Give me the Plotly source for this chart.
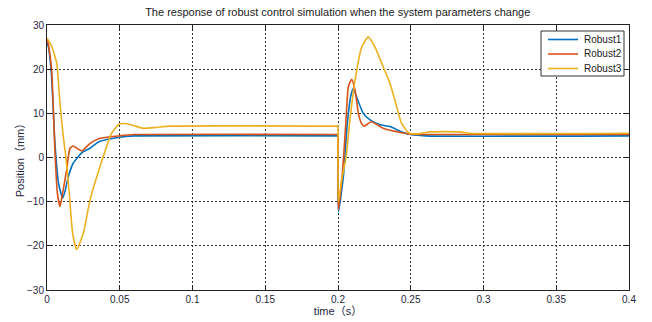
import plotly.graph_objects as go

# Robust1 (blue)
t1 = [0, 0.001, 0.003, 0.0055, 0.008, 0.0108, 0.0125, 0.0147, 0.018, 0.024, 0.0296, 0.036, 0.0497, 0.06, 0.2,
      0.2, 0.2003, 0.2037, 0.2064, 0.2087, 0.2105, 0.214, 0.2174, 0.222, 0.2289, 0.2357, 0.2438, 0.25, 0.26, 0.4]
y1 = [26.0, 25.0, 19.0, 3.0, -6.0, -9.2, -7.5, -4.3, -1.3, 1.1, 2.1, 3.6, 4.6, 4.9, 4.9,
      4.9, -12.3, -4.3, 7.7, 13.8, 15.6, 12.6, 10.0, 8.5, 7.4, 7.0, 5.8, 5.2, 4.9, 4.9]

# Robust2 (orange)
t2 = [0, 0.001, 0.0032, 0.0055, 0.0071, 0.0089, 0.0105, 0.0135, 0.0158, 0.018, 0.021, 0.024, 0.0296, 0.036, 0.0497, 0.06, 0.2,
      0.2, 0.2002, 0.2032, 0.2055, 0.2071, 0.2094, 0.2117, 0.214, 0.2163, 0.218, 0.223, 0.2311, 0.2438, 0.25, 0.26, 0.4]
y2 = [27.0, 25.5, 19.8, 1.0, -8.0, -11.1, -8.5, -2.8, 2.1, 2.6, 2.0, 1.5, 3.2, 4.3, 4.9, 5.2, 5.2,
      5.2, -11.9, -2.8, 8.5, 16.0, 17.7, 15.3, 10.0, 7.6, 7.1, 8.1, 6.6, 5.6, 5.3, 5.2, 5.2]

# Robust3 (yellow)
t3 = [0, 0.003, 0.0067, 0.0089, 0.0112, 0.013, 0.0153, 0.0176, 0.0204, 0.025, 0.0296, 0.0387, 0.0444, 0.0497, 0.053,
      0.06, 0.066, 0.075, 0.0845, 0.2,
      0.2, 0.2003, 0.2025, 0.2055, 0.2082, 0.2117, 0.2163, 0.2208, 0.2254, 0.2311, 0.2357, 0.2403, 0.2437, 0.249,
      0.256, 0.263, 0.284, 0.29, 0.4]
y3 = [27.0, 25.3, 21.3, 12.3, 4.7, 0.0, -8.1, -17.1, -20.8, -17.1, -9.6, 0.2, 5.5, 7.6, 7.7,
      7.2, 6.6, 6.8, 7.1, 7.1,
      7.1, -10.0, -5.1, 0.0, 8.5, 17.5, 25.0, 27.3, 25.0, 20.5, 16.8, 11.5, 7.7, 5.5,
      5.4, 5.8, 5.8, 5.5, 5.5]

names = ["Robust1", "Robust2", "Robust3"]
colors = ["#0072BD", "#D95319", "#EDB120"]

x_ticks = [0, 0.05, 0.1, 0.15, 0.2, 0.25, 0.3, 0.35, 0.4]
x_tick_text = ["0", "0.05", "0.1", "0.15", "0.2", "0.25", "0.3", "0.35", "0.4"]
y_ticks = [-30, -20, -10, 0, 10, 20, 30]

font_fam = "Arial, Liberation Sans, Noto Sans CJK SC, sans-serif"
txt = "#262640"

fig = go.Figure()
for t, y, n, c in zip([t1, t2, t3], [y1, y2, y3], names, colors):
    fig.add_trace(go.Scatter(x=t, y=y, mode="lines", name=n, showlegend=False,
                             line=dict(color=c, width=1.6, shape="spline", smoothing=0.5)))

axis_common = dict(showline=True, linecolor="#222", linewidth=1, mirror="ticks",
                   ticks="inside", ticklen=5, tickcolor="#222", automargin=False,
                   showgrid=True, gridcolor="#333", gridwidth=1, griddash="2px,2px",
                   zeroline=False, tickfont=dict(size=10, color=txt, family=font_fam))

fig.update_xaxes(range=[0, 0.4], tickvals=x_ticks, ticktext=x_tick_text,
                 title=dict(text="time（s）", font=dict(size=11, color=txt, family=font_fam), standoff=2),
                 **axis_common)
fig.update_yaxes(range=[-30, 30], tickvals=y_ticks,
                 title=dict(text="Position（mm）", font=dict(size=11, color=txt, family=font_fam), standoff=0),
                 **axis_common)

# Legend box drawn in paper coordinates (pixel-based positions converted)
W, H = 652, 322
L, R, T, B = 47, 23, 25, 32
pw, ph = W - L - R, H - T - B
def px(x):
    return (x - L) / pw
def py(y):
    return (H - B - y) / ph

shapes = [dict(type="rect", xref="paper", yref="paper",
               x0=px(541), x1=px(624), y0=py(76), y1=py(31),
               line=dict(color="#333", width=1), fillcolor="white", layer="above")]
annotations = []
for i, (n, c) in enumerate(zip(names, colors)):
    yy = 39.5 + 14.5 * i
    shapes.append(dict(type="line", xref="paper", yref="paper",
                       x0=px(548), x1=px(578), y0=py(yy), y1=py(yy),
                       line=dict(color=c, width=1.6), layer="above"))
    annotations.append(dict(text=n, xref="paper", yref="paper", x=px(582), y=py(yy),
                            xanchor="left", yanchor="middle", showarrow=False,
                            font=dict(size=10, color="#222", family=font_fam)))

fig.update_layout(
    width=W, height=H,
    margin=dict(l=L, r=R, t=T, b=B),
    paper_bgcolor="white", plot_bgcolor="white",
    title=dict(text="The response of robust control simulation when the system parameters change",
               x=0.518, xanchor="center", y=1 - 12 / 322, yanchor="middle",
               font=dict(size=11, color="#222", family=font_fam)),
    shapes=shapes, annotations=annotations,
    showlegend=False,
)

fig.write_html("out.html")
